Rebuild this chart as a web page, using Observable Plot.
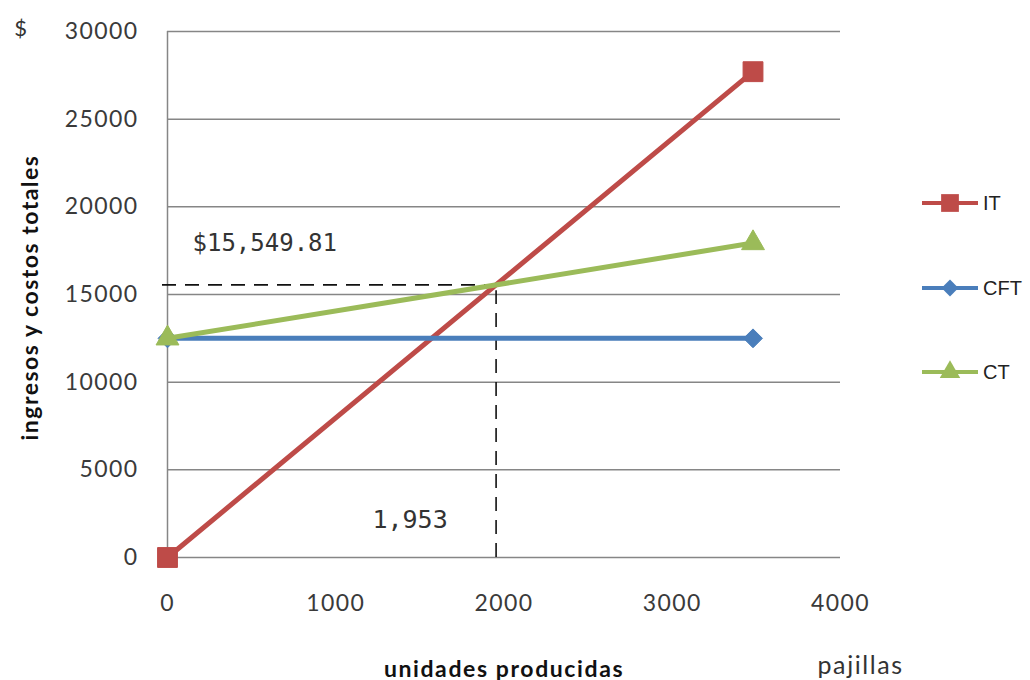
<!DOCTYPE html>
<html>
<head>
<meta charset="utf-8">
<script src="https://cdn.jsdelivr.net/npm/d3@7"></script>
<script src="https://cdn.jsdelivr.net/npm/@observablehq/plot@0.6"></script>
<style>
  html, body { margin: 0; padding: 0; background: #ffffff; }
  #chart svg { display: block; }
</style>
</head>
<body>
<div id="chart"></div>
<script>
// Units produced (pajillas) at the two ends of each line
const units = [0, 3480];

// Series values (pesos)
const ingresosTotales = [0, 27708];      // IT
const costoFijoTotal = [12500, 12500];   // CFT
const costoTotal = [12500, 17934];       // CT

// Series names, colours and marker shapes (legend order)
const seriesNames = ["IT", "CFT", "CT"];
const seriesColors = ["#BE4B48", "#4A7EBB", "#9BBB59"];
const seriesSymbols = ["square", "diamond2", "triangle"];
const seriesSizes = [11.2, 8.5, 8.5];

// Break-even point
const breakEvenUnits = 1953;
const breakEvenAmount = 15549.81;

// Axis ticks and labels
const xTicks = [0, 1000, 2000, 3000, 4000];
const yTicks = [0, 5000, 10000, 15000, 20000, 25000, 30000];
const xTitle = "unidades producidas";
const xUnit = "pajillas";
const yTitle = "ingresos y costos totales";
const yUnit = "$";

const seriesValues = [ingresosTotales, costoFijoTotal, costoTotal];
const series = seriesNames.map((name, i) => ({
  name,
  color: seriesColors[i],
  symbol: seriesSymbols[i],
  r: seriesSizes[i],
  points: units.map((u, j) => ({ units: u, value: seriesValues[i][j] }))
}));

const grid = "#868686";
const dash = "14,9";

const lineMarks = series.flatMap(s => [
  Plot.line(s.points, { x: "units", y: "value", stroke: s.color, strokeWidth: 5 }),
  Plot.dot(s.points, { x: "units", y: "value", symbol: s.symbol, r: s.r, fill: s.color, stroke: s.color, strokeWidth: 1 })
]);

const chart = Plot.plot({
  width: 1030,
  height: 680,
  marginLeft: 167,
  marginRight: 190,
  marginTop: 31,
  marginBottom: 123,
  style: { fontFamily: "Lato, 'Open Sans', sans-serif", fontSize: "23px", color: "#3a3a3a", background: "#ffffff", overflow: "visible" },
  x: { domain: [0, 4000], ticks: xTicks, tickSize: 0, tickPadding: 37, label: null, tickFormat: d => String(d) },
  y: { domain: [0, 30000], ticks: yTicks, tickSize: 0, tickPadding: 29, label: null, tickFormat: d => String(d) },
  marks: [
    Plot.gridY(yTicks, { stroke: grid, strokeOpacity: 1, strokeWidth: 1.5 }),
    Plot.ruleX([0], { stroke: grid, strokeWidth: 1.5 }),
    // break-even guides
    Plot.ruleY([breakEvenAmount], { x1: 0, x2: breakEvenUnits, stroke: "#111", strokeWidth: 1.6, strokeDasharray: dash, insetLeft: -5 }),
    Plot.ruleX([breakEvenUnits], { y1: 0, y2: breakEvenAmount, stroke: "#111", strokeWidth: 1.6, strokeDasharray: dash, insetBottom: -6 }),
    ...lineMarks,
    Plot.text([breakEvenAmount], {
      x: 0, y: d => d, text: d => "$" + d3.format(",.2f")(d),
      textAnchor: "start", dx: 25, dy: -42,
      fontFamily: "'DejaVu Sans Mono', monospace", fontSize: 24, fill: "#333"
    }),
    Plot.text([breakEvenUnits], {
      x: d => d, y: 0, text: d => d3.format(",")(d),
      textAnchor: "middle", dx: -86, dy: -38,
      fontFamily: "'DejaVu Sans Mono', monospace", fontSize: 25, fill: "#333"
    }),
    // axis titles
    Plot.text([yTitle], {
      frameAnchor: "left", text: d => d, rotate: -90, textAnchor: "middle", lineAnchor: "middle",
      dx: -137, dy: 3,
      fontWeight: "bold", fontSize: 23, fill: "#111"
    }),
    Plot.text([yUnit], {
      frameAnchor: "top-left", text: d => d, textAnchor: "middle", dx: -147, dy: -11,
      fontSize: 22, fill: "#333"
    }),
    Plot.text([xTitle], {
      frameAnchor: "bottom", text: d => d, lineAnchor: "middle", dx: 0, dy: 112,
      fontWeight: "bold", fontSize: 23, fill: "#111"
    }),
    Plot.text([xUnit], {
      frameAnchor: "bottom-right", text: d => d, textAnchor: "start", lineAnchor: "middle", dx: -23, dy: 108,
      fontSize: 25, fill: "#333"
    })
  ]
});

document.getElementById("chart").appendChild(chart);

const svg = d3.select(chart);

// Slightly open letter spacing for the axis texts
svg.selectAll('g[aria-label="x-axis tick label"] text, g[aria-label="y-axis tick label"] text')
  .style("letter-spacing", "1.4px");
const spacing = { [yTitle]: "1.5px", [xTitle]: "1.6px", [xUnit]: "1.6px" };
svg.selectAll("text").each(function () {
  const s = spacing[this.textContent];
  if (s) d3.select(this).style("letter-spacing", s);
});

// Legend: a short line with the series marker, then its name
const legendY = [203, 288, 372];
const legend = svg.append("g").attr("class", "legend").attr("text-anchor", "start");
series.forEach((s, i) => {
  const g = legend.append("g").attr("transform", `translate(0,${legendY[i]})`);
  g.append("line").attr("x1", 922).attr("x2", 978).attr("y1", 0).attr("y2", 0)
    .attr("stroke", s.color).attr("stroke-width", 4);
  const sym = { square: d3.symbolSquare, diamond2: d3.symbolDiamond2, triangle: d3.symbolTriangle }[s.symbol];
  g.append("path").attr("d", d3.symbol(sym, Math.PI * s.r * s.r * 0.8)())
    .attr("transform", "translate(950,0)").attr("fill", s.color);
  g.append("text").attr("x", 983).attr("y", 0).attr("dy", "0.35em")
    .attr("text-anchor", "start")
    .attr("font-family", "'Liberation Sans', Arial, sans-serif").attr("font-size", 20)
    .attr("fill", "#222").text(s.name);
});
</script>
</body>
</html>
